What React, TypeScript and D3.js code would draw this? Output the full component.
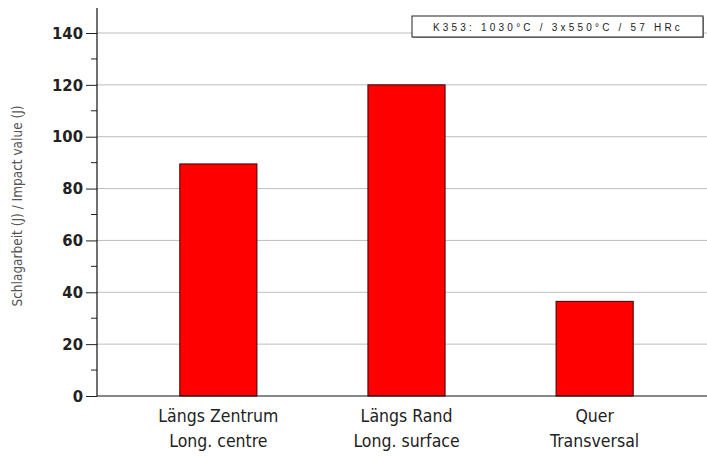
import { useEffect, useRef } from 'react';
import * as d3 from 'd3';

const categories = ['Längs Zentrum|Long. centre', 'Längs Rand|Long. surface', 'Quer|Transversal'];
const values = [89.5, 120, 36.5];
const yTicks = [0, 20, 40, 60, 80, 100, 120, 140];
const yMinorTicks = [10, 30, 50, 70, 90, 110, 130];
const yTitle = 'Schlagarbeit (J) / Impact value (J)';
const legendText = 'K353: 1030°C / 3x550°C / 57 HRc';

const W = 707;
const H = 461;
const FONT = '"DejaVu Sans Condensed", "Liberation Sans Narrow", sans-serif';

export default function App() {
  const svgRef = useRef<SVGSVGElement>(null);

  useEffect(() => {
    if (!svgRef.current) return;
    const svg = d3.select(svgRef.current);
    svg.selectAll('*').remove();

    const left = 97;
    const bottom = 396;
    const top = 8;

    const y = d3.scaleLinear().domain([0, 140]).range([bottom, 33]);
    const x = d3.scaleBand()
      .domain(categories)
      .range([left, 716])
      .paddingInner(0.59)
      .paddingOuter(0.44);

    svg.append('rect').attr('width', W).attr('height', H).attr('fill', '#fff');

    // gridlines
    svg.append('g')
      .selectAll('line')
      .data(yTicks.filter((d) => d > 0))
      .join('line')
      .attr('x1', left)
      .attr('x2', W)
      .attr('y1', (d) => y(d))
      .attr('y2', (d) => y(d))
      .attr('stroke', '#bdbdbd')
      .attr('stroke-width', 1);

    // bars
    svg.append('g')
      .selectAll('rect')
      .data(values)
      .join('rect')
      .attr('x', (_d, i) => x(categories[i])!)
      .attr('width', x.bandwidth())
      .attr('y', (d) => y(d))
      .attr('height', (d) => y(0) - y(d))
      .attr('fill', '#ff0000')
      .attr('stroke', '#3a0000')
      .attr('stroke-width', 1);

    // y axis
    const yAxis = svg.append('g')
      .attr('transform', `translate(${left},0)`)
      .call(d3.axisLeft(y).tickValues(yTicks).tickSize(11).tickPadding(3).tickFormat((d) => String(d)));
    yAxis.select('.domain').remove();
    yAxis.selectAll('text')
      .attr('font-family', FONT)
      .attr('font-weight', 'bold')
      .attr('font-size', 16.5)
      .attr('fill', '#222');
    yAxis.selectAll('.tick line').attr('stroke', '#222');

    svg.append('g')
      .selectAll('line')
      .data(yMinorTicks)
      .join('line')
      .attr('x1', left - 6)
      .attr('x2', left)
      .attr('y1', (d) => y(d))
      .attr('y2', (d) => y(d))
      .attr('stroke', '#222');

    svg.append('line')
      .attr('x1', left).attr('x2', left)
      .attr('y1', top).attr('y2', bottom)
      .attr('stroke', '#111').attr('stroke-width', 1.2);
    svg.append('line')
      .attr('x1', left).attr('x2', W)
      .attr('y1', bottom).attr('y2', bottom)
      .attr('stroke', '#111').attr('stroke-width', 1.2);

    // x labels
    const xl = svg.append('g')
      .selectAll('text')
      .data(categories)
      .join('text')
      .attr('x', (d) => x(d)! + x.bandwidth() / 2)
      .attr('y', 422)
      .attr('text-anchor', 'middle')
      .attr('font-family', FONT)
      .attr('font-size', 17.5)
      .attr('fill', '#222');
    xl.each(function (d) {
      const parts = d.split('|');
      const t = d3.select(this);
      parts.forEach((p, i) => {
        t.append('tspan')
          .attr('x', x(d)! + x.bandwidth() / 2)
          .attr('dy', i === 0 ? 0 : 25)
          .text(p);
      });
    });

    // y title
    svg.append('text')
      .attr('transform', `translate(22,206) rotate(-90)`)
      .attr('text-anchor', 'middle')
      .attr('font-family', FONT)
      .attr('font-size', 13.5)
      .attr('fill', '#555')
      .text(yTitle);

    // legend box
    const lg = svg.append('g');
    lg.append('rect')
      .attr('x', 413).attr('y', 17).attr('width', 291).attr('height', 21)
      .attr('fill', '#999');
    lg.append('rect')
      .attr('x', 412).attr('y', 16).attr('width', 291).attr('height', 21)
      .attr('fill', '#fff')
      .attr('stroke', '#222')
      .attr('stroke-width', 1);
    lg.append('text')
      .attr('x', 558).attr('y', 31)
      .attr('text-anchor', 'middle')
      .attr('font-family', 'Arial, "Liberation Sans", sans-serif')
      .attr('font-size', 10)
      .attr('letter-spacing', 3.2)
      .attr('fill', '#222')
      .text(legendText);
  }, []);

  return (
    <svg
      ref={svgRef}
      width={W}
      height={H}
      style={{ position: 'absolute', left: 0, top: 0, display: 'block' }}
    />
  );
}
